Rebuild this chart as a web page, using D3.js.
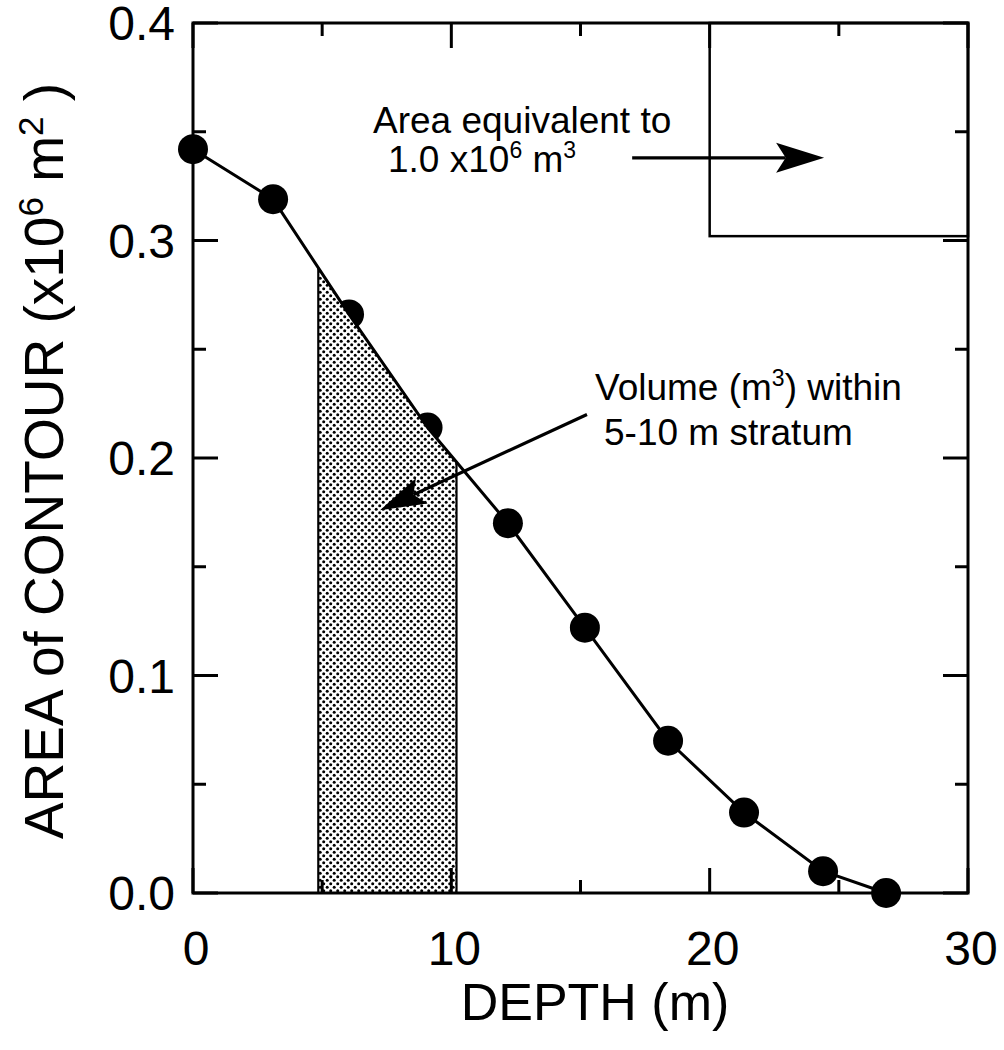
<!DOCTYPE html>
<html>
<head>
<meta charset="utf-8">
<script src="https://cdn.jsdelivr.net/npm/d3@7"></script>
<style>
  body { margin: 0; background: #fff; }
  svg text { font-family: "Liberation Sans", Arial, sans-serif; fill: #000; }
</style>
</head>
<body>
<div id="chart"></div>
<script>
// data
const depth = [0, 3.1, 6.04, 9.08, 12.19, 15.17, 18.39, 21.33, 24.39, 26.83];
const area  = [0.342, 0.319, 0.266, 0.214, 0.170, 0.122, 0.070, 0.037, 0.010, 0.0];

const xMajor = [0, 10, 20, 30];
const xMinor = [5, 15, 25];
const yMajor = [0, 0.1, 0.2, 0.3, 0.4];
const yMinor = [0.05, 0.15, 0.25, 0.35];
const xTickLabels = ["0", "10", "20", "30"];
const yTickLabels = ["0.0", "0.1", "0.2", "0.3", "0.4"];

// shaded 5-10 m stratum and the 1.0x10^6 m^3 reference box
const stratum = [4.85, 10.2];
const boxDepth = [20, 30];
const boxArea = [0.302, 0.4];

const width = 1004, height = 1050;
const margin = {top: 23, left: 193, right: 36, bottom: 157};

const svg = d3.select("#chart").append("svg")
    .attr("width", width)
    .attr("height", height);

const x = d3.scaleLinear().domain([0, 30]).range([margin.left, width - margin.right]);
const y = d3.scaleLinear().domain([0, 0.4]).range([height - margin.bottom, margin.top]);

const data = depth.map((d, i) => ({depth: d, area: area[i]}));

// stipple pattern
const defs = svg.append("defs");
const pat = defs.append("pattern")
    .attr("id", "stipple")
    .attr("patternUnits", "userSpaceOnUse")
    .attr("width", 7).attr("height", 7);
pat.append("circle").attr("cx", 1.7).attr("cy", 1.7).attr("r", 1.5).attr("fill", "#000");
pat.append("circle").attr("cx", 5.2).attr("cy", 5.2).attr("r", 1.5).attr("fill", "#000");

/***** POINTS *****/
svg.append("g").selectAll("circle")
    .data(data)
    .join("circle")
    .attr("cx", d => x(d.depth))
    .attr("cy", d => y(d.area))
    .attr("r", 15)
    .attr("fill", "#000");

/***** SHADED STRATUM *****/
function areaAt(z) {
    for (let i = 0; i < depth.length - 1; i++) {
        if (z >= depth[i] && z <= depth[i + 1]) {
            const t = (z - depth[i]) / (depth[i + 1] - depth[i]);
            return area[i] + t * (area[i + 1] - area[i]);
        }
    }
    return 0;
}
const shadePts = [{depth: stratum[0], area: areaAt(stratum[0])}]
    .concat(data.filter(d => d.depth > stratum[0] && d.depth < stratum[1]))
    .concat([{depth: stratum[1], area: areaAt(stratum[1])}]);

const shadeArea = d3.area()
    .x(d => x(d.depth))
    .y0(y(0))
    .y1(d => y(d.area));

svg.append("path").datum(shadePts).attr("d", shadeArea).attr("fill", "#fff");
svg.append("path").datum(shadePts).attr("d", shadeArea).attr("fill", "url(#stipple)");

stratum.forEach(s => {
    svg.append("line")
        .attr("x1", x(s)).attr("x2", x(s))
        .attr("y1", y(0)).attr("y2", y(areaAt(s)))
        .attr("stroke", "#000").attr("stroke-width", 2.2);
});

/***** LINE *****/
const line = d3.line()
    .x(d => x(d.depth))
    .y(d => y(d.area));

svg.append("path")
    .datum(data)
    .attr("d", line)
    .attr("fill", "none")
    .attr("stroke", "#000")
    .attr("stroke-width", 3);

/***** REFERENCE BOX *****/
svg.append("rect")
    .attr("x", x(boxDepth[0]))
    .attr("y", y(boxArea[1]))
    .attr("width", x(boxDepth[1]) - x(boxDepth[0]))
    .attr("height", y(boxArea[0]) - y(boxArea[1]))
    .attr("fill", "none")
    .attr("stroke", "#000")
    .attr("stroke-width", 2.5);

/***** ARROWS *****/
function arrow(x1, y1, x2, y2, len, half) {
    const a = Math.atan2(y2 - y1, x2 - x1);
    const ca = Math.cos(a), sa = Math.sin(a);
    const bx = x2 - len * ca, by = y2 - len * sa;
    const nx = x2 - len * 0.8 * ca, ny = y2 - len * 0.8 * sa;
    svg.append("line")
        .attr("x1", x1).attr("y1", y1).attr("x2", nx).attr("y2", ny)
        .attr("stroke", "#000").attr("stroke-width", 3.2);
    const head = [
        [x2, y2],
        [bx - half * sa, by + half * ca],
        [nx, ny],
        [bx + half * sa, by - half * ca]
    ];
    svg.append("path")
        .attr("d", "M" + head.map(p => p.join(",")).join("L") + "Z")
        .attr("fill", "#000");
}
arrow(x(17.0), y(0.338), x(24.43), y(0.338), 48, 15);
arrow(x(15.25), y(0.220), x(7.24), y(0.176), 46, 14);

/***** AXES / FRAME *****/
const frame = svg.append("g").attr("stroke", "#000").attr("stroke-width", 3);
frame.append("rect")
    .attr("x", x(0)).attr("y", y(0.4))
    .attr("width", x(30) - x(0)).attr("height", y(0) - y(0.4))
    .attr("fill", "none");

function ticks(vals, len) {
    vals.forEach(v => {
        frame.append("line").attr("x1", x(v)).attr("x2", x(v)).attr("y1", y(0)).attr("y2", y(0) - len);
        frame.append("line").attr("x1", x(v)).attr("x2", x(v)).attr("y1", y(0.4)).attr("y2", y(0.4) + len);
    });
}
function yticks(vals, len) {
    vals.forEach(v => {
        frame.append("line").attr("x1", x(0)).attr("x2", x(0) + len).attr("y1", y(v)).attr("y2", y(v));
        frame.append("line").attr("x1", x(30)).attr("x2", x(30) - len).attr("y1", y(v)).attr("y2", y(v));
    });
}
ticks(xMajor, 25);
ticks(xMinor, 13);
yticks(yMajor, 25);
yticks(yMinor, 13);

svg.append("g").selectAll("text")
    .data(xMajor)
    .join("text")
    .attr("x", d => x(d) + 3)
    .attr("y", 965)
    .attr("text-anchor", "middle")
    .attr("font-size", 48)
    .text((d, i) => xTickLabels[i]);

svg.append("g").selectAll("text")
    .data(yMajor)
    .join("text")
    .attr("x", x(0) - 18)
    .attr("y", d => y(d) + 17)
    .attr("text-anchor", "end")
    .attr("font-size", 48)
    .text((d, i) => yTickLabels[i]);

/***** LABELS *****/
svg.append("text")
    .attr("x", 595).attr("y", 1020)
    .attr("text-anchor", "middle")
    .attr("font-size", 52)
    .text("DEPTH (m)");

const yl = svg.append("text")
    .attr("transform", "translate(63,461) rotate(-90)")
    .attr("text-anchor", "middle")
    .attr("font-size", 55);
yl.append("tspan").text("AREA of CONTOUR (x10");
yl.append("tspan").attr("font-size", 35).attr("dy", -20).text("6");
yl.append("tspan").attr("dy", 20).text(" m");
yl.append("tspan").attr("font-size", 35).attr("dy", -20).text("2");
yl.append("tspan").attr("dy", 20).text(" )");

// text with superscripts; objects {up: "..."} are raised
function annot(xp, yp, parts) {
    const t = svg.append("text").attr("x", xp).attr("y", yp).attr("font-size", 37);
    let shift = 0;
    parts.forEach(p => {
        if (typeof p === "object") {
            t.append("tspan").attr("font-size", 23).attr("dy", -14 - shift).text(p.up);
            shift = -14;
        } else {
            t.append("tspan").attr("dy", -shift).text(p);
            shift = 0;
        }
    });
}
annot(373, 133, ["Area equivalent to"]);
annot(388, 172, ["1.0 x10", {up: "6"}, " m", {up: "3"}]);
annot(595, 400, ["Volume (m", {up: "3"}, ") within"]);
annot(604, 445, ["5-10 m stratum"]);
</script>
</body>
</html>
